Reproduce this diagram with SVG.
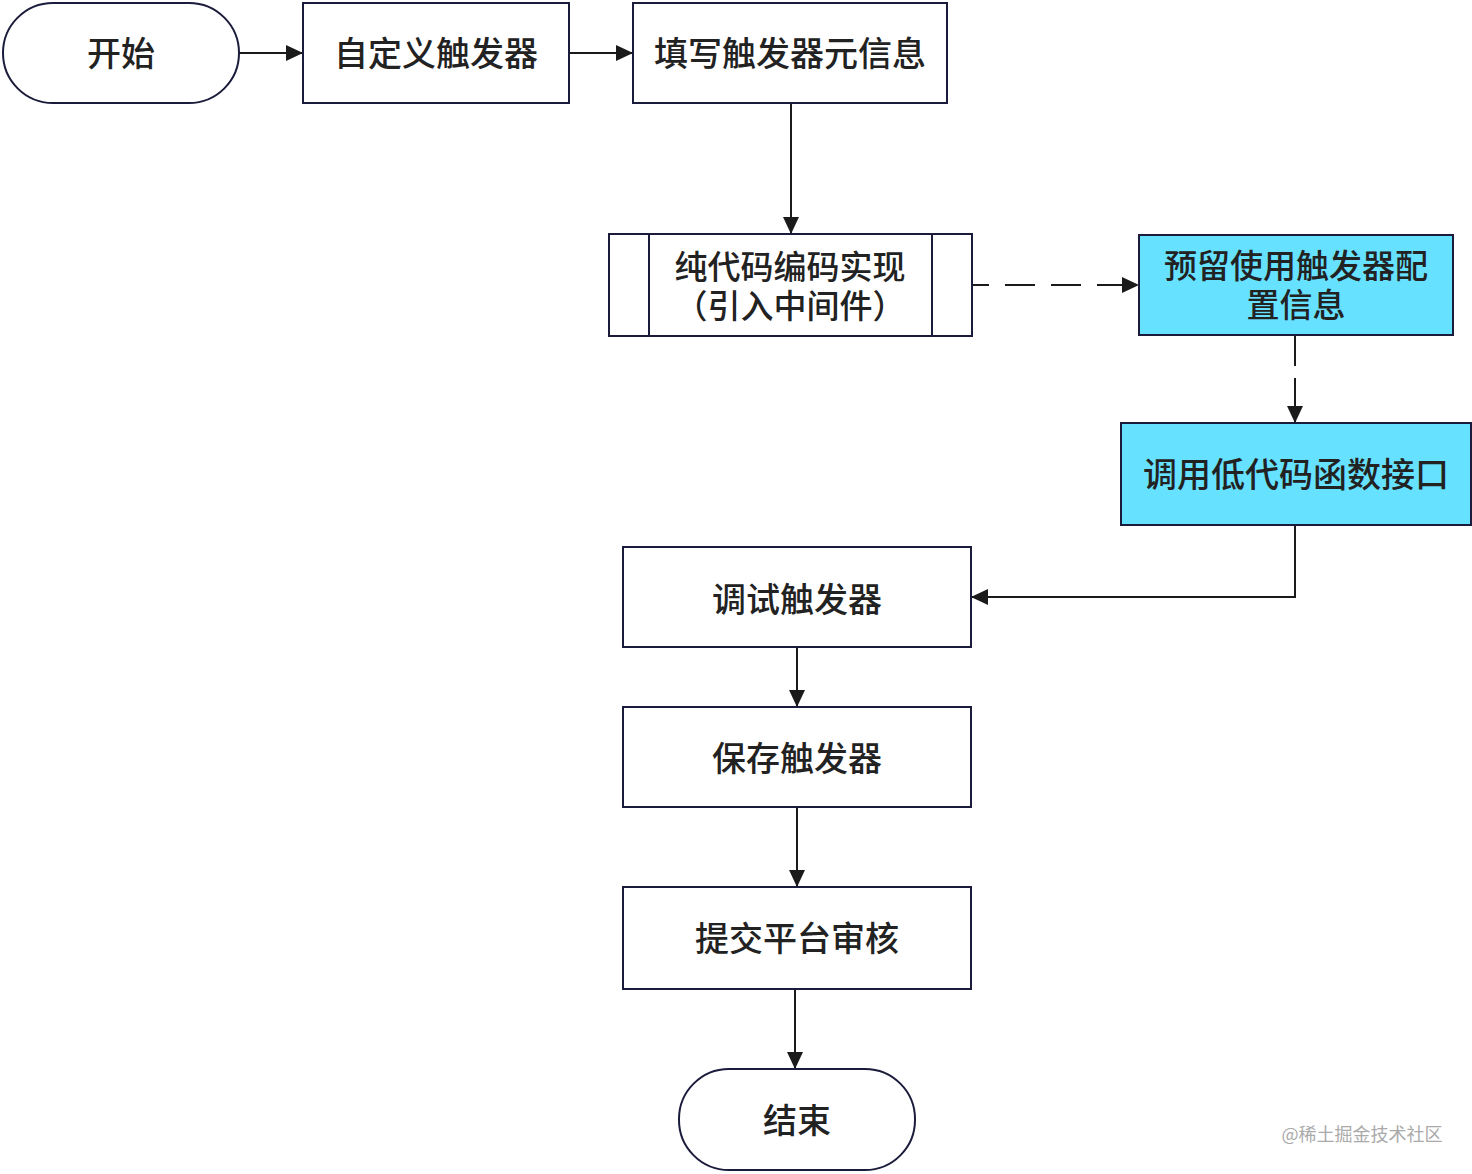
<svg xmlns="http://www.w3.org/2000/svg" width="1472" height="1174" viewBox="0 0 1472 1174">
<defs>
<style>
.box{fill:#ffffff;stroke:#1b1b3b;stroke-width:2}
.cyan{fill:#66e1ff;stroke:#1b1b3b;stroke-width:2}
.t{font-family:"Noto Sans CJK SC","Noto Sans",sans-serif;font-size:34px;font-weight:500;fill:#222222;text-anchor:middle;dominant-baseline:central}
.t2{font-size:33px}
.c{fill:none;stroke:#1a1a1a;stroke-width:2}
.d{fill:none;stroke:#1a1a1a;stroke-width:2;stroke-dasharray:30 16}
</style>
<marker id="ah" viewBox="0 0 17 16" refX="17" refY="8" markerWidth="17" markerHeight="16" markerUnits="userSpaceOnUse" orient="auto">
<path d="M0,0 L17,8 L0,16 Z" fill="#1a1a1a"/>
</marker>
</defs>
<rect width="1472" height="1174" fill="#ffffff"/>
<g id="connectors">
<path class="c" d="M239,53 H303" marker-end="url(#ah)"/>
<path class="c" d="M569,53 H633" marker-end="url(#ah)"/>
<path class="c" d="M791,103 V234" marker-end="url(#ah)"/>
<path class="d" d="M972,285 H1139" stroke-dashoffset="13" marker-end="url(#ah)"/>
<path class="c" d="M1295,335 V366 M1295,378 V423" marker-end="url(#ah)"/>
<path class="c" d="M1295,525 V597 H971" marker-end="url(#ah)"/>
<path class="c" d="M797,647 V707" marker-end="url(#ah)"/>
<path class="c" d="M797,807 V887" marker-end="url(#ah)"/>
<path class="c" d="M795,989 V1069" marker-end="url(#ah)"/>
</g>
<g id="start">
<rect class="box" x="3" y="3" width="236" height="100" rx="50"/>
<text class="t" x="121" y="51">开始</text>
</g>
<g id="custom">
<rect class="box" x="303" y="3" width="266" height="100"/>
<text class="t" x="436" y="51">自定义触发器</text>
</g>
<g id="meta">
<rect class="box" x="633" y="3" width="314" height="100"/>
<text class="t" x="790" y="51">填写触发器元信息</text>
</g>
<g id="code">
<rect class="box" x="609" y="234" width="363" height="102"/>
<path class="box" d="M649,234 V336 M932,234 V336"/>
<text class="t t2" x="790" y="265">纯代码编码实现</text>
<text class="t t2" x="790" y="304">（引入中间件）</text>
</g>
<g id="reserve">
<rect class="cyan" x="1139" y="235" width="314" height="100"/>
<text class="t t2" x="1296" y="264">预留使用触发器配</text>
<text class="t t2" x="1296" y="303">置信息</text>
</g>
<g id="lowcode">
<rect class="cyan" x="1121" y="423" width="350" height="102"/>
<text class="t" x="1296" y="472">调用低代码函数接口</text>
</g>
<g id="debug">
<rect class="box" x="623" y="547" width="348" height="100"/>
<text class="t" x="797" y="597">调试触发器</text>
</g>
<g id="save">
<rect class="box" x="623" y="707" width="348" height="100"/>
<text class="t" x="797" y="756">保存触发器</text>
</g>
<g id="submit">
<rect class="box" x="623" y="887" width="348" height="102"/>
<text class="t" x="797" y="936">提交平台审核</text>
</g>
<g id="end">
<rect class="box" x="679" y="1069" width="236" height="101" rx="50"/>
<text class="t" x="797" y="1118">结束</text>
</g>
<text x="1362" y="1133" font-family="Noto Sans CJK SC, sans-serif" font-size="18" fill="#aaaaaa" text-anchor="middle" dominant-baseline="central">@稀土掘金技术社区</text>
</svg>
